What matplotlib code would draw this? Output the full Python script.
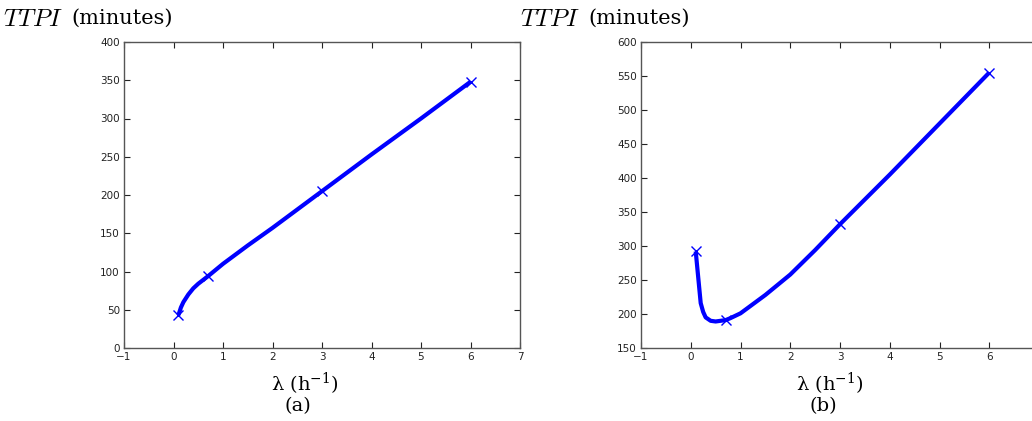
import matplotlib
matplotlib.use("Agg")
import matplotlib.pyplot as plt

# curve samples
lam_a = [0.1, 0.15, 0.2, 0.3, 0.4, 0.5, 0.7, 1.0, 1.5, 2.0, 3.0, 4.0, 5.0, 6.0]
ttpi_a = [43, 53, 60, 70, 78, 84, 94, 110, 134, 157, 205, 253, 300, 348]
lam_b = [0.1, 0.2, 0.25, 0.3, 0.4, 0.5, 0.6, 0.7, 0.8, 1.0, 1.5, 2.0, 2.5, 3.0, 4.0, 5.0, 6.0]
ttpi_b = [292, 216, 203, 195, 190, 189, 190, 191, 194, 201, 228, 258, 294, 332, 405, 480, 555]

# marked points
mk_lam = [0.1, 0.7, 3.0, 6.0]
mk_a = [43, 94, 205, 348]
mk_b = [292, 191, 332, 555]

W, H = 1032, 421
fig = plt.figure(figsize=(W / 100, H / 100), dpi=100)
ax_a = fig.add_axes([124 / W, (H - 348) / H, 396 / W, 306 / H])
# right panel runs past the figure edge, as in the original
ax_b = fig.add_axes([641 / W, (H - 348) / H, 398 / W, 306 / H])

for ax, lam, y, my, ylim, step in [
        (ax_a, lam_a, ttpi_a, mk_a, (0, 400), 50),
        (ax_b, lam_b, ttpi_b, mk_b, (150, 600), 50)]:
    ax.plot(lam, y, color="blue", lw=3, solid_capstyle="butt")
    ax.plot(mk_lam, my, "x", color="blue", ms=7, mew=1)
    ax.set_xlim(-1, 7)
    ax.set_ylim(*ylim)
    ax.set_xticks(range(-1, 8))
    ax.set_yticks(list(range(ylim[0], ylim[1] + 1, step)))
    ax.tick_params(direction="in", top=True, right=True, length=4, labelsize=7.5,
                   colors="#222222", pad=3)
    for s in ax.spines.values():
        s.set_color("#555555")
        s.set_linewidth(1)

# label "7" of the right panel is off the canvas in the original
ax_b.set_xticks(range(-1, 7))

for x0 in (3, 520):
    fig.text(x0 / W, 1 - 19 / H, r"$TTPI$", fontsize=18, math_fontfamily="cm",
             va="center", ha="left")
    fig.text((x0 + 68) / W, 1 - 18 / H, "(minutes)", fontsize=15,
             family="DejaVu Serif", va="center", ha="left")

for cx, cap in [(305, "(a)"), (830, "(b)")]:
    fig.text(cx / W, 1 - 384 / H, r"λ (h$^{-1}$)", fontsize=14, family="DejaVu Serif",
             math_fontfamily="dejavuserif", ha="center", va="center")
    fig.text((cx - 7) / W, 1 - 406 / H, cap, fontsize=14, family="DejaVu Serif",
             ha="center", va="center")

fig.savefig("out.png", dpi=100)
